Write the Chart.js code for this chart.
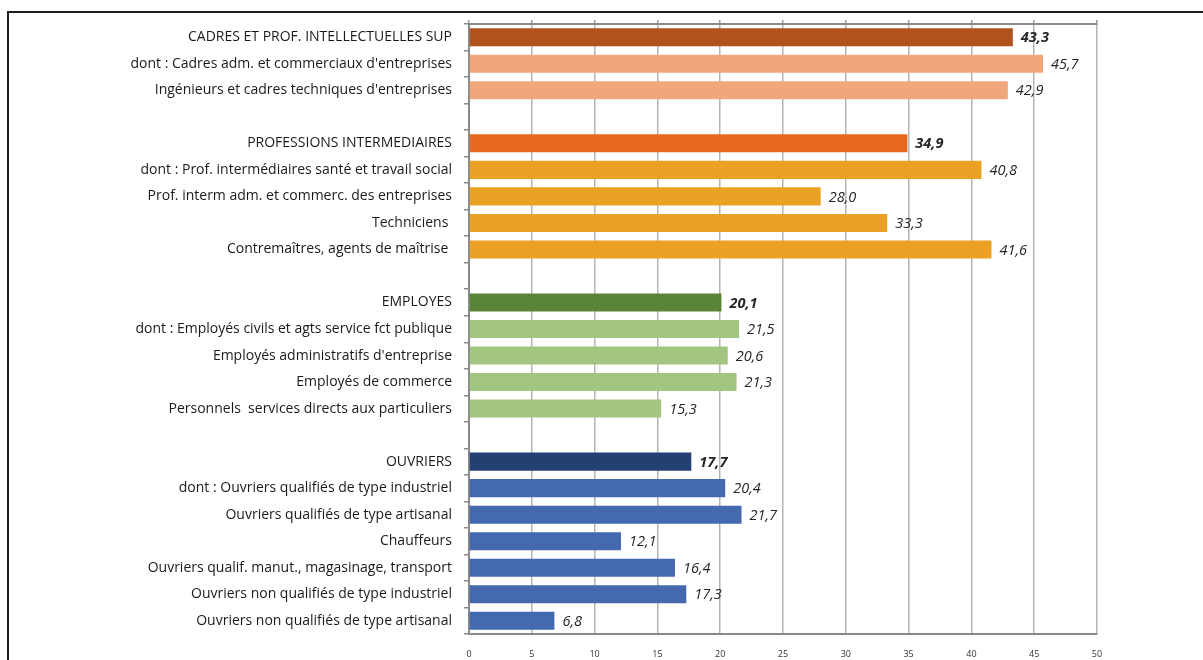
<!DOCTYPE html>
<html>
<head>
<meta charset="utf-8">
<script src="https://cdn.jsdelivr.net/npm/chart.js@4"></script>
<style>
  body { margin: 0; background: #fff; overflow: hidden; }
  #wrap { position: relative; width: 1203px; height: 660px; }
  #frame { position: absolute; left: 7px; top: 11px; width: 1300px; height: 700px;
           border-left: 2.5px solid #1e1e1e; border-top: 2.5px solid #1e1e1e; }
  canvas { position: absolute; left: 0; top: 0; }
</style>
</head>
<body>
<div id="wrap">
  <div id="frame"></div>
  <canvas id="chart" width="1203" height="660"></canvas>
</div>
<script>
// rows of the chart, top to bottom ('' = empty spacer row)
const categories = [
    "CADRES ET PROF. INTELLECTUELLES SUP",
    "dont : Cadres adm. et commerciaux d'entreprises",
    "Ingénieurs et cadres techniques d'entreprises",
    "",
    "PROFESSIONS INTERMEDIAIRES",
    "dont : Prof. intermédiaires santé et travail social",
    "Prof. interm adm. et commerc. des entreprises",
    "Techniciens ",
    "Contremaîtres, agents de maîtrise ",
    "",
    "EMPLOYES",
    "dont : Employés civils et agts service fct publique",
    "Employés administratifs d'entreprise",
    "Employés de commerce",
    "Personnels  services directs aux particuliers",
    "",
    "OUVRIERS",
    "dont : Ouvriers qualifiés de type industriel",
    "Ouvriers qualifiés de type artisanal",
    "Chauffeurs",
    "Ouvriers qualif. manut., magasinage, transport",
    "Ouvriers non qualifiés de type industriel",
    "Ouvriers non qualifiés de type artisanal"
];
const values = [
    43.3, 45.7, 42.9, null,
    34.9, 40.8, 28.0, 33.3, 41.6, null,
    20.1, 21.5, 20.6, 21.3, 15.3, null,
    17.7, 20.4, 21.7, 12.1, 16.4, 17.3, 6.8
];
// which group each row belongs to, and whether it is the group total
const groups = [0,0,0,-1, 1,1,1,1,1,-1, 2,2,2,2,2,-1, 3,3,3,3,3,3,3];
const isHeader = [1,0,0,0, 1,0,0,0,0,0, 1,0,0,0,0,0, 1,0,0,0,0,0,0];
const xTicks = [0, 5, 10, 15, 20, 25, 30, 35, 40, 45, 50];

const headerColors = ['#b0521e', '#e8681f', '#5b8536', '#243f72'];
const subColors = ['#f1a77c', '#eba124', '#a2c57f', '#4569ae'];

const barColors = groups.map((g, i) => g < 0 ? 'transparent' : (isHeader[i] ? headerColors[g] : subColors[g]));

const valueLabels = {
    id: 'valueLabels',
    afterDatasetsDraw(chart) {
        const ctx = chart.ctx;
        const meta = chart.getDatasetMeta(0);
        ctx.save();
        ctx.fillStyle = '#262626';
        ctx.textBaseline = 'middle';
        ctx.textAlign = 'left';
        meta.data.forEach((bar, i) => {
            const v = values[i];
            if (v === null) return;
            ctx.font = (isHeader[i] ? 'italic bold ' : 'italic ') + '14.5px "Open Sans"';
            ctx.fillText(v.toFixed(1).replace('.', ','), bar.x + 8, bar.y + 1);
        });
        ctx.restore();
    }
};

new Chart(document.getElementById('chart'), {
    type: 'bar',
    data: {
        labels: categories,
        datasets: [{
            data: values,
            backgroundColor: barColors,
            borderWidth: 0,
            barPercentage: 0.8,
            categoryPercentage: 0.85
        }]
    },
    options: {
        indexAxis: 'y',
        responsive: false,
        animation: false,
        layout: { padding: { top: 19, right: 106, left: 0, bottom: 0 } },
        plugins: { legend: { display: false }, tooltip: { enabled: false } },
        scales: {
            x: {
                min: 0, max: 50,
                afterBuildTicks: s => { s.ticks = xTicks.map(v => ({ value: v })); },
                afterFit: s => { s.height = 26; },
                grid: { color: '#b4b4b4', lineWidth: 1.5, drawTicks: false },
                border: { color: '#8a8a8a', width: 2 },
                ticks: { padding: 15, color: '#333', font: { family: 'Open Sans', size: 9 } }
            },
            x2: {
                position: 'top',
                min: 0, max: 50,
                afterBuildTicks: s => { s.ticks = xTicks.map(v => ({ value: v })); },
                afterFit: s => { s.height = 5; },
                grid: { drawOnChartArea: false, drawTicks: true, tickLength: 4, color: '#9a9a9a', lineWidth: 1.5 },
                border: { color: '#8a8a8a', width: 2 },
                ticks: { display: false }
            },
            y: {
                afterFit: s => { s.width = 469; },
                grid: { offset: true, drawOnChartArea: false, drawTicks: true, tickLength: 5, color: '#8a8a8a', lineWidth: 1.5 },
                border: { color: '#8a8a8a', width: 2 },
                ticks: { padding: 12, color: '#1a1a1a', autoSkip: false, font: { family: 'Open Sans', size: 14 } }
            }
        }
    },
    plugins: [valueLabels]
});
</script>
</body>
</html>
